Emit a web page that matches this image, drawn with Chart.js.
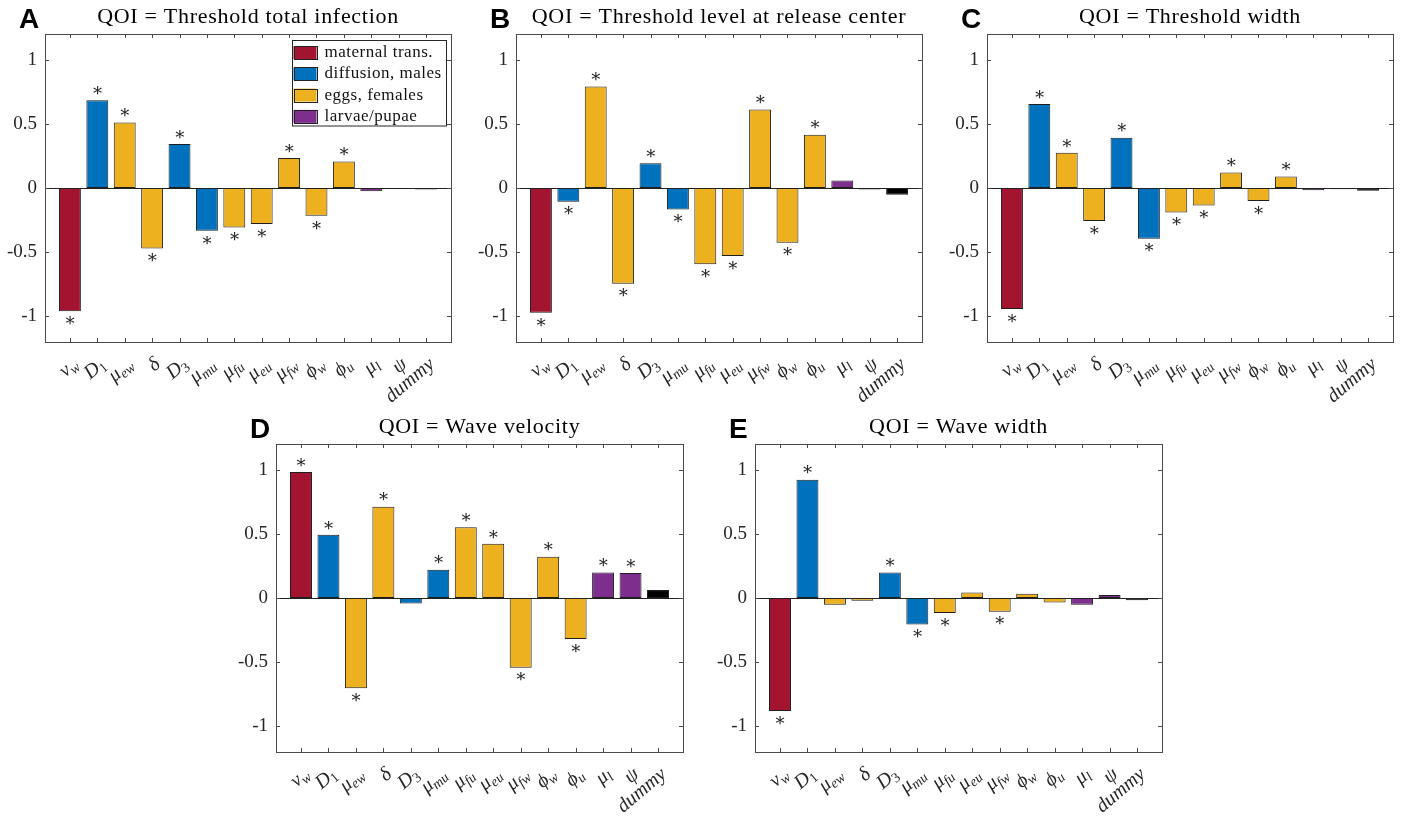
<!DOCTYPE html>
<html><head><meta charset="utf-8">
<script src="https://cdn.jsdelivr.net/npm/chart.js@4.4.1/dist/chart.umd.min.js"></script>
<style>
html,body{margin:0;padding:0;background:#fff}
body{width:1407px;height:818px;position:relative;overflow:hidden}
canvas{position:absolute}
</style></head><body>
<canvas id="cA"></canvas><canvas id="cB"></canvas><canvas id="cC"></canvas><canvas id="cD"></canvas><canvas id="cE"></canvas>
<script>
// ---------- data ----------
const paramLabels = [['v','w'],['D','1'],['μ','ew'],['δ',''],['D','3'],['μ','mu'],['μ','fu'],['μ','eu'],['μ','fw'],['ϕ','w'],['ϕ','u'],['μ','l'],['ψ',''],['dummy','']];
const paramGroups = ['maternal','diffusion','eggs','eggs','diffusion','diffusion','eggs','eggs','eggs','eggs','eggs','larvae','larvae','dummy'];
const groupNames = ['maternal trans.','diffusion, males','eggs, females','larvae/pupae'];
const yTickValues = [-1,-0.5,0,0.5,1];

const titleA = 'QOI = Threshold total infection';
const valuesA = [-0.96,0.684,0.51,-0.472,0.342,-0.334,-0.308,-0.281,0.233,-0.217,0.206,-0.026,-0.007,-0.012];
const sigA    = [1,1,1,1,1,1,1,1,1,1,1,0,0,0];

const titleB = 'QOI = Threshold level at release center';
const valuesB = [-0.973,-0.107,0.791,-0.746,0.193,-0.167,-0.594,-0.529,0.611,-0.427,0.415,0.058,-0.012,-0.052];
const sigB    = [1,1,1,1,1,1,1,1,1,1,1,0,0,0];

const titleC = 'QOI = Threshold width';
const valuesC = [-0.942,0.655,0.274,-0.257,0.392,-0.395,-0.19,-0.137,0.12,-0.101,0.089,-0.017,-0.01,-0.022];
const sigC    = [1,1,1,1,1,1,1,1,1,1,1,0,0,0];

const titleD = 'QOI = Wave velocity';
const valuesD = [0.982,0.492,-0.703,0.711,-0.042,0.221,0.552,0.422,-0.543,0.322,-0.32,0.198,0.195,0.062];
const sigD    = [1,1,1,1,0,1,1,1,1,1,1,1,1,0];

const titleE = 'QOI = Wave width';
const valuesE = [-0.88,0.922,-0.052,-0.021,0.198,-0.207,-0.117,0.042,-0.107,0.034,-0.036,-0.052,0.023,-0.018];
const sigE    = [1,1,0,0,1,1,1,0,1,0,0,0,0,0];

// ---------- styles ----------
const groupColors = {maternal:'#A2142F', diffusion:'#0072BD', eggs:'#EDB120', larvae:'#7E2F8E', dummy:'#000000'};
const SERIF = "'Liberation Serif', 'DejaVu Serif', serif";
const AXIS = '#4a4a4a';

const panelPlugin = {
  id: 'panel',
  afterDatasetsDraw(chart, args, o) {
    const ctx = chart.ctx, ca = chart.chartArea, ys = chart.scales.y;
    const y0 = Math.round(ys.getPixelForValue(0)) + 0.5;
    ctx.save();
    ctx.strokeStyle = '#222'; ctx.lineWidth = 1;
    ctx.beginPath(); ctx.moveTo(ca.left, y0); ctx.lineTo(ca.right, y0); ctx.stroke();
    const meta = chart.getDatasetMeta(0);
    ctx.fillStyle = '#222';
    ctx.font = "18px 'DejaVu Serif', serif";
    ctx.textAlign = 'center'; ctx.textBaseline = 'middle';
    o.sig.forEach((s, i) => {
      if (!s) return;
      const el = meta.data[i];
      const v = chart.data.datasets[0].data[i].y;
      const yy = v >= 0 ? el.y - 9 : el.y + 10;
      ctx.fillText('∗', el.x, yy);
    });
    ctx.restore();
  },
  afterDraw(chart, args, o) {
    const ctx = chart.ctx, ca = chart.chartArea, xs = chart.scales.x, ys = chart.scales.y;
    ctx.save();
    ctx.strokeStyle = AXIS; ctx.lineWidth = 1;
    ctx.strokeRect(Math.round(ca.left)+0.5, Math.round(ca.top)+0.5, Math.round(ca.right-ca.left), Math.round(ca.bottom-ca.top));
    ctx.beginPath();
    paramLabels.forEach((l, i) => {
      const px = Math.round(xs.getPixelForValue(i+1)) + 0.5;
      ctx.moveTo(px, ca.bottom); ctx.lineTo(px, ca.bottom - 4);
      ctx.moveTo(px, ca.top); ctx.lineTo(px, ca.top + 4);
    });
    yTickValues.forEach(v => {
      const py = Math.round(ys.getPixelForValue(v)) + 0.5;
      ctx.moveTo(ca.left, py); ctx.lineTo(ca.left + 4, py);
      ctx.moveTo(ca.right, py); ctx.lineTo(ca.right - 4, py);
    });
    ctx.stroke();
    // x labels
    ctx.fillStyle = '#262626';
    paramLabels.forEach((lab, i) => {
      const px = xs.getPixelForValue(i+1);
      const [b, s] = lab;
      ctx.save();
      ctx.translate(px + 6, ca.bottom + 20);
      ctx.rotate(-40 * Math.PI / 180);
      ctx.textBaseline = 'middle'; ctx.textAlign = 'left';
      const bFont = 'italic 20px ' + SERIF;
      const sFont = (/^[0-9]+$/.test(s) ? '' : 'italic ') + '14px ' + SERIF;
      ctx.font = bFont; const wb = ctx.measureText(b).width;
      ctx.font = sFont; const ws = s ? ctx.measureText(s).width : 0;
      ctx.font = bFont; ctx.fillText(b, -(wb + ws), 0);
      if (s) { ctx.font = sFont; ctx.fillText(s, -ws, 5); }
      ctx.restore();
    });
    // title
    ctx.fillStyle = '#000';
    ctx.font = '22px ' + SERIF;
    ctx.letterSpacing = '0.7px';
    ctx.textAlign = 'center'; ctx.textBaseline = 'middle';
    ctx.fillText(o.title, (ca.left + ca.right) / 2, ca.top - 17);
    ctx.letterSpacing = '0px';
    // letter
    ctx.font = "bold 28px 'Liberation Sans', Arial, sans-serif";
    ctx.textAlign = 'left'; ctx.textBaseline = 'alphabetic';
    ctx.fillText(o.letter, ca.left - 26, ca.top - 6);
    // legend
    if (o.legend) {
      const bx = ca.right - 159.5, by = ca.top + 6, bw = 154, bh = 85.5;
      ctx.fillStyle = '#fff'; ctx.fillRect(bx, by, bw, bh);
      ctx.strokeStyle = '#262626'; ctx.strokeRect(Math.round(bx)+0.5, Math.round(by)+0.5, bw, bh);
      const keys = ['maternal','diffusion','eggs','larvae'];
      ctx.font = '17px ' + SERIF; ctx.textBaseline = 'middle';
      ctx.letterSpacing = '0.5px';
      keys.forEach((k, j) => {
        const cy = by + 12.5 + j * 21.3;
        ctx.fillStyle = groupColors[k];
        ctx.fillRect(bx + 2, cy - 6.5, 23, 13);
        ctx.strokeStyle = '#222'; ctx.strokeRect(Math.round(bx+2)+0.5, Math.round(cy-6.5)+0.5, 23, 13);
        ctx.fillStyle = '#111';
        ctx.fillText(groupNames[j], bx + 33, cy);
      });
      ctx.letterSpacing = '0px';
    }
    ctx.restore();
  }
};

function makePanel(id, left, top, plotW, canvasH, title, letter, values, sig, legend) {
  const padL = 45, padR = 14, padT = 34, plotH = 308;
  const cv = document.getElementById(id);
  cv.width = padL + plotW + padR; cv.height = canvasH;
  cv.style.left = (left - padL) + 'px'; cv.style.top = top + 'px';
  cv.style.width = cv.width + 'px'; cv.style.height = cv.height + 'px';
  const xH = canvasH - padT - plotH;
  new Chart(cv, {
    type: 'bar',
    data: {
      datasets: [{
        data: values.map((v, i) => ({x: i + 1, y: v})),
        backgroundColor: paramGroups.map(g => groupColors[g]),
        borderColor: '#1e1e1e', borderWidth: 1, borderSkipped: false,
        categoryPercentage: 1, barPercentage: 0.8
      }]
    },
    options: {
      responsive: false, animation: false, devicePixelRatio: 1,
      layout: {padding: {top: padT, right: padR, left: 0, bottom: 0}},
      plugins: {legend: {display: false}, tooltip: {enabled: false},
        panel: {title, letter, sig, legend}},
      scales: {
        x: {type: 'linear', min: 0.09, max: 14.91, offset: false,
            ticks: {display: false}, grid: {display: false}, border: {display: false},
            afterFit: s => { s.height = xH; }},
        y: {type: 'linear', min: -1.2, max: 1.2,
            afterBuildTicks: s => { s.ticks = yTickValues.map(v => ({value: v})); },
            ticks: {padding: 8, color: '#262626', font: {family: SERIF, size: 19},
                    callback: v => String(v)},
            grid: {display: false, drawTicks: false}, border: {display: false},
            afterFit: s => { s.width = padL; }}
      }
    },
    plugins: [panelPlugin]
  });
}

makePanel('cA', 45, 0, 406, 410, titleA, 'A', valuesA, sigA, true);
makePanel('cB', 516, 0, 406, 410, titleB, 'B', valuesB, sigB, false);
makePanel('cC', 987, 0, 406, 410, titleC, 'C', valuesC, sigC, false);
makePanel('cD', 276, 410, 407, 408, titleD, 'D', valuesD, sigD, false);
makePanel('cE', 755, 410, 407, 408, titleE, 'E', valuesE, sigE, false);
</script>
</body></html>
